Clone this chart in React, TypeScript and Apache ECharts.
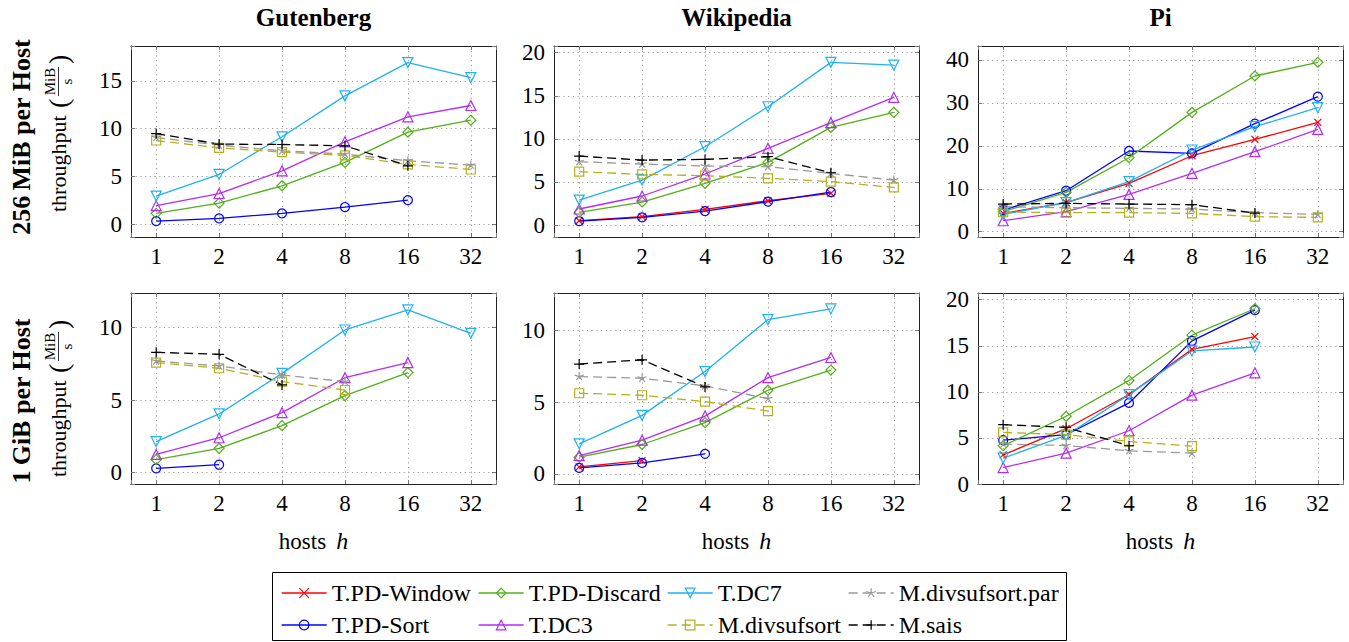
import { useEffect, useRef } from 'react';
import * as echarts from 'echarts';

type V = number | null;

const HOSTS = [1, 2, 4, 8, 16, 32];
const DATASETS = ['Gutenberg', 'Wikipedia', 'Pi'];
const ROW_LABELS = ['256\u2009MiB per Host', '1\u2009GiB per Host'];
const SERIES_NAMES = [
  'T.PD-Window',
  'T.PD-Sort',
  'T.PD-Discard',
  'T.DC3',
  'T.DC7',
  'M.divsufsort',
  'M.divsufsort.par',
  'M.sais',
];

// order of rows follows SERIES_NAMES; values per host count 1,2,4,8,16,32
const GUTENBERG_256: V[][] = [
  [null, null, null, null, null, null],
  [0.31, 0.59, 1.12, 1.78, 2.51, null],
  [1.12, 2.2, 4.01, 6.46, 9.63, 10.89],
  [1.92, 3.2, 5.58, 8.62, 11.24, 12.43],
  [2.93, 5.2, 9.15, 13.44, 16.93, 15.36],
  [8.76, 7.99, 7.54, 7.19, 6.25, 5.72],
  [9.07, 8.27, 7.68, 7.33, 6.63, 6.18],
  [9.49, 8.38, 8.34, 8.2, 6.1, null],
];
const WIKIPEDIA_256: V[][] = [
  [0.5, 0.97, 1.82, 2.82, 3.67, null],
  [0.46, 0.89, 1.62, 2.71, 3.83, null],
  [1.47, 2.67, 4.84, 7.27, 11.33, 13.08],
  [1.86, 3.37, 5.92, 8.9, 11.88, 14.82],
  [2.9, 5.22, 9.09, 13.73, 18.88, 18.57],
  [6.19, 5.88, 5.73, 5.42, 5.03, 4.37],
  [7.35, 7.08, 6.85, 6.77, 6.0, 5.22],
  [8.0, 7.54, 7.62, 7.93, 6.07, null],
];
const PI_256: V[][] = [
  [4.27, 6.76, 11.26, 17.7, 21.5, 25.48],
  [5.05, 9.55, 18.8, 18.25, 25.17, 31.46],
  [4.66, 9.17, 17.24, 27.8, 36.27, 39.46],
  [2.56, 4.66, 8.7, 13.6, 18.64, 23.84],
  [4.04, 6.76, 11.65, 19.03, 24.47, 28.9],
  [4.58, 4.43, 4.43, 4.27, 3.5, 3.34],
  [5.83, 5.6, 5.44, 5.28, 4.43, 4.04],
  [6.45, 6.6, 6.45, 6.3, 4.35, null],
];
const GUTENBERG_1G: V[][] = [
  [null, null, null, null, null, null],
  [0.3, 0.55, null, null, null, null],
  [0.9, 1.68, 3.24, 5.31, 6.9, null],
  [1.26, 2.41, 4.14, 6.55, 7.59, null],
  [2.14, 4.05, 6.85, 9.84, 11.22, 9.61],
  [7.59, 7.2, 6.28, 5.7, null, null],
  [7.7, 7.36, 6.74, 6.28, null, null],
  [8.3, 8.16, 6.05, null, null, null],
];
const WIKIPEDIA_1G: V[][] = [
  [0.49, 0.93, null, null, null, null],
  [0.42, 0.77, 1.4, null, null, null],
  [1.17, 2.05, 3.57, 5.83, 7.23, null],
  [1.28, 2.35, 4.03, 6.71, 8.11, null],
  [2.1, 4.08, 7.13, 10.75, 11.49, null],
  [5.62, 5.48, 5.03, 4.38, null, null],
  [6.78, 6.67, 6.13, 5.24, null, null],
  [7.65, 7.95, 6.06, null, null, null],
];
const PI_1G: V[][] = [
  [3.16, 6.0, 9.71, 14.62, 16.0, null],
  [4.76, 5.35, 8.8, 15.53, 18.87, null],
  [4.15, 7.35, 11.24, 16.15, 19.02, null],
  [1.78, 3.35, 5.78, 9.64, 12.07, null],
  [2.8, 5.27, 9.7, 14.44, 14.87, null],
  [5.6, 5.35, 4.62, 4.11, null, null],
  [4.33, 4.18, 3.6, 3.35, null, null],
  [6.44, 6.15, 4.15, null, null, null],
];

const PANELS = [GUTENBERG_256, WIKIPEDIA_256, PI_256, GUTENBERG_1G, WIKIPEDIA_1G, PI_1G];
const Y_MIN = [-1.36, -1.39, -1.23, -0.78, -0.7, 0];
const Y_MAX = [18.67, 20.78, 43.26, 12.39, 12.6, 20.73];
const Y_STEP = [5, 5, 10, 5, 5, 5];
const Y_SPLIT = [4, 4, 4, 3, 3, 4];

const FONT = "'Liberation Serif', 'Times New Roman', serif";

const X_PATH = 'path://M-5,-5L5,5M-5,5L5,-5';
const PLUS_PATH = 'path://M-5,0L5,0M0,-5L0,5';
const STAR_PATH =
  'path://M0,0L0,-5M0,0L4.755,-1.545M0,0L2.939,4.045M0,0L-2.939,4.045M0,0L-4.755,-1.545M0,5L0,5';

const STYLES: Record<string, { color: string; symbol: string; size: number; rotate: number; dashed: boolean }> = {
  'T.PD-Window': { color: '#ff0000', symbol: X_PATH, size: 7, rotate: 0, dashed: false },
  'T.PD-Sort': { color: '#0000ff', symbol: 'circle', size: 9, rotate: 0, dashed: false },
  'T.PD-Discard': { color: '#52b017', symbol: 'diamond', size: 10, rotate: 0, dashed: false },
  'T.DC3': { color: '#b52bf5', symbol: 'triangle', size: 10, rotate: 0, dashed: false },
  'T.DC7': { color: '#1fb1f2', symbol: 'triangle', size: 10, rotate: 180, dashed: false },
  'M.divsufsort': { color: '#b5b01f', symbol: 'rect', size: 9, rotate: 0, dashed: true },
  'M.divsufsort.par': { color: '#999999', symbol: STAR_PATH, size: 9, rotate: 0, dashed: true },
  'M.sais': { color: '#000000', symbol: PLUS_PATH, size: 10, rotate: 0, dashed: true },
};

const COL_LEFT = [131, 554, 978];
const ROW_TOP = [46, 293];
const GRID_W = 365;
const GRID_H = 191;

const LEGEND_SLOTS: Record<string, [number, number]> = {
  'T.PD-Window': [281, 0],
  'T.PD-Sort': [281, 1],
  'T.PD-Discard': [478, 0],
  'T.DC3': [478, 1],
  'T.DC7': [667, 0],
  'M.divsufsort': [667, 1],
  'M.divsufsort.par': [848, 0],
  'M.sais': [848, 1],
};
const LEGEND_ROW_TOP = [581, 613];

function buildOption() {
  const grid: any[] = [];
  const xAxis: any[] = [];
  const yAxis: any[] = [];
  const series: any[] = [];

  const tick = { show: true, inside: true, length: 4, lineStyle: { color: '#777', width: 1 } };
  const line = { show: true, onZero: false, lineStyle: { color: '#222', width: 1 } };

  PANELS.forEach((panel, p) => {
    const row = Math.floor(p / 3);
    const col = p % 3;
    grid.push({
      left: COL_LEFT[col],
      top: ROW_TOP[row],
      width: GRID_W,
      height: GRID_H,
      containLabel: false,
      outerBoundsMode: 'none',
    });
    const xBase = {
      type: 'value',
      gridIndex: p,
      min: -0.4,
      max: HOSTS.length - 0.6,
      splitNumber: 5,
      axisLine: line,
      axisTick: tick,
    };
    xAxis.push({
      ...xBase,
      position: 'bottom',
      axisLabel: {
        margin: 8,
        fontFamily: FONT,
        fontSize: 23,
        color: '#000',
        formatter: (v: number) => {
          const r = Math.round(v);
          return Math.abs(v - r) < 1e-6 && r >= 0 && r < HOSTS.length ? String(HOSTS[r]) : '';
        },
      },
      splitLine: { show: true, lineStyle: { color: '#9a9a9a', width: 1, type: [1.2, 3.5] } },
      name: row === 1 ? '{a|hosts}{b|h}' : '',
      nameLocation: 'middle',
      nameGap: 45,
      nameTextStyle: {
        fontFamily: FONT,
        fontSize: 23,
        color: '#000',
        rich: {
          a: { fontFamily: FONT, fontSize: 23, color: '#000' },
          b: { fontFamily: FONT, fontSize: 24, color: '#000', fontStyle: 'italic', padding: [0, 0, 0, 10] },
        },
      },
    });
    xAxis.push({
      ...xBase,
      position: 'top',
      axisLabel: { show: false },
      splitLine: { show: false },
    });
    const step = Y_STEP[p];
    const yBase = {
      type: 'value',
      gridIndex: p,
      min: Y_MIN[p],
      max: Y_MAX[p],
      splitNumber: Y_SPLIT[p],
      axisLine: line,
      axisTick: tick,
    };
    yAxis.push({
      ...yBase,
      position: 'left',
      axisLabel: {
        margin: 9,
        fontFamily: FONT,
        fontSize: 23,
        color: '#000',
        formatter: (v: number) => {
          const q = v / step;
          return Math.abs(q - Math.round(q)) < 1e-6 ? String(Math.round(v)) : '';
        },
      },
      splitLine: { show: true, lineStyle: { color: '#9a9a9a', width: 1, type: [1.2, 3.5] } },
    });
    yAxis.push({
      ...yBase,
      position: 'right',
      axisLabel: { show: false },
      splitLine: { show: false },
    });

    SERIES_NAMES.forEach((name, s) => {
      const st = STYLES[name];
      const data = panel[s]
        .map((v, i) => (v == null ? null : [i, v]))
        .filter((d) => d !== null);
      if (!data.length) return;
      series.push({
        type: 'line',
        name,
        xAxisIndex: p * 2,
        yAxisIndex: p * 2,
        data,
        symbol: st.symbol,
        symbolSize: st.size,
        symbolRotate: st.rotate,
        showAllSymbol: true,
        lineStyle: { color: st.color, width: 1.3, type: st.dashed ? [9, 5] : 'solid' },
        itemStyle: { color: 'none', borderColor: st.color, borderWidth: 1.2 },
        emphasis: { disabled: true },
        silent: true,
      });
    });
  });

  const legend = SERIES_NAMES.map((name) => {
    const [left, r] = LEGEND_SLOTS[name];
    return {
      data: [name],
      left,
      top: LEGEND_ROW_TOP[r],
      orient: 'horizontal',
      padding: 0,
      itemWidth: 45,
      itemHeight: 12,
      selectedMode: false,
      textStyle: { fontFamily: FONT, fontSize: 24, color: '#000' },
      itemStyle: { borderWidth: 1.2 },
      lineStyle: { width: 1.3 },
    };
  });

  const graphic: any[] = [];
  DATASETS.forEach((t, c) => {
    graphic.push({
      type: 'text',
      x: COL_LEFT[c] + GRID_W / 2,
      y: 17,
      style: {
        text: t,
        fontFamily: FONT,
        fontWeight: 'bold',
        fontSize: 25,
        fill: '#000',
        align: 'center',
        verticalAlign: 'middle',
      },
    });
  });
  const boldY = [137, 401];
  const thrStart = [212, 477];
  ROW_LABELS.forEach((label, r) => {
    graphic.push({
      type: 'text',
      x: 21,
      y: boldY[r],
      rotation: Math.PI / 2,
      style: {
        text: label,
        fontFamily: FONT,
        fontWeight: 'bold',
        fontSize: 26,
        fill: '#000',
        align: 'center',
        verticalAlign: 'middle',
      },
    });
    graphic.push({
      type: 'group',
      x: 58,
      y: thrStart[r],
      rotation: Math.PI / 2,
      children: [
        {
          type: 'text',
          x: 0,
          y: 0,
          style: { text: 'throughput', fontFamily: FONT, fontSize: 22, fill: '#000', align: 'left', verticalAlign: 'middle' },
        },
        {
          type: 'text',
          x: 104,
          y: 0,
          style: { text: '(', fontFamily: FONT, fontSize: 28, fill: '#000', align: 'left', verticalAlign: 'middle' },
        },
        {
          type: 'text',
          x: 130.5,
          y: -8,
          style: { text: 'MiB', fontFamily: FONT, fontSize: 15, fill: '#000', align: 'center', verticalAlign: 'middle' },
        },
        {
          type: 'line',
          shape: { x1: 116, y1: 0.5, x2: 145, y2: 0.5 },
          style: { stroke: '#000', lineWidth: 0.8 },
        },
        {
          type: 'text',
          x: 130.5,
          y: 9,
          style: { text: 's', fontFamily: FONT, fontSize: 15, fill: '#000', align: 'center', verticalAlign: 'middle' },
        },
        {
          type: 'text',
          x: 148,
          y: 0,
          style: { text: ')', fontFamily: FONT, fontSize: 28, fill: '#000', align: 'left', verticalAlign: 'middle' },
        },
      ],
    });
  });
  graphic.push({
    type: 'rect',
    shape: { x: 272.5, y: 572.5, width: 794, height: 68 },
    style: { fill: 'none', stroke: '#000', lineWidth: 1 },
    silent: true,
  });

  return {
    animation: false,
    backgroundColor: '#fff',
    textStyle: { fontFamily: FONT },
    grid,
    xAxis,
    yAxis,
    series,
    legend,
    graphic,
    tooltip: { show: false },
  };
}

export default function App() {
  const ref = useRef<HTMLDivElement>(null);
  useEffect(() => {
    document.body.style.margin = '0';
    if (!ref.current) return;
    const chart = echarts.init(ref.current, undefined, { renderer: 'svg' });
    chart.setOption(buildOption() as any);
    return () => chart.dispose();
  }, []);
  return <div ref={ref} style={{ width: 1349, height: 642, background: '#fff' }} />;
}
